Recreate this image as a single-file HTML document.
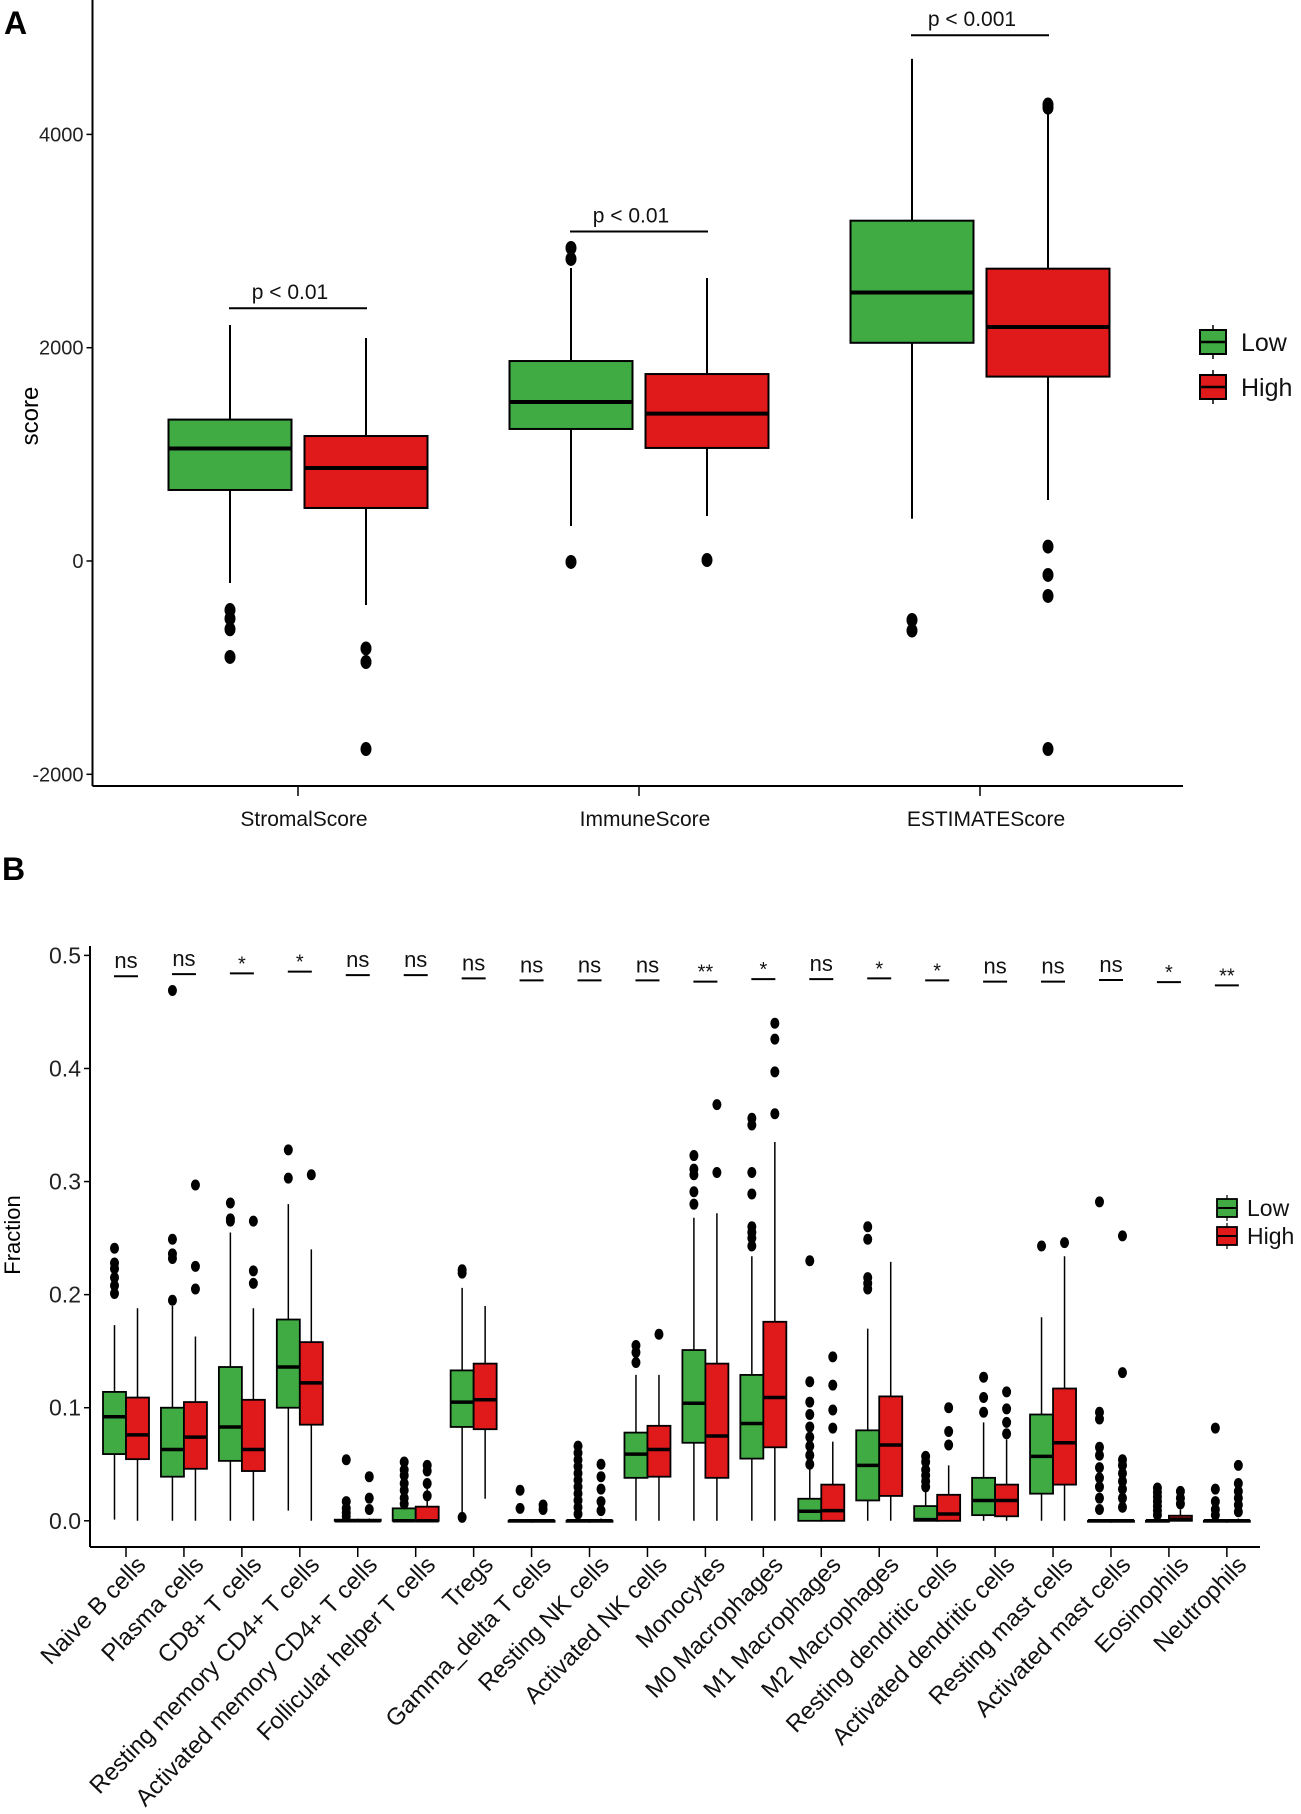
<!DOCTYPE html>
<html><head><meta charset="utf-8"><style>
html,body{margin:0;padding:0;background:#fff;}
svg{display:block;font-family:"Liberation Sans Narrow","Liberation Sans",sans-serif;}
</style></head><body>
<svg id="fig" width="1301" height="1814" viewBox="0 0 1301 1814" xmlns="http://www.w3.org/2000/svg">
<rect width="1301" height="1814" fill="#fff"/>
<text x="4" y="34" font-size="32" font-weight="bold" font-family="Liberation Sans,sans-serif">A</text>
<text x="2" y="880" font-size="32" font-weight="bold" font-family="Liberation Sans,sans-serif">B</text>
<g id="pa"></g>
<g id="pb"></g>
</svg>
<script>
// ---------- Panel A data ----------
const aCategories = ["StromalScore","ImmuneScore","ESTIMATEScore"];
const aPvals = ["p < 0.01","p < 0.01","p < 0.001"];
const aPbarY = [2370, 3090, 4930];
const aTicks = [-2000, 0, 2000, 4000];
const aLowStats = [[-206,666,1055,1326,2213],[328,1238,1491,1875,2747],[396,2046,2518,3191,4708]];
const aHighStats = [[-413,497,872,1172,2091],[422,1060,1382,1753,2653],[572,1729,2194,2741,4187]];
const aLowOut = [[-460,-540,-640,-900],[2935,2832,-9],[-553,-652]];
const aHighOut = [[-820,-947,-1763],[9],[4280,4250,135,-131,-328,-1763]];

// ---------- Panel B data ----------
const bCategories = ["Naive B cells","Plasma cells","CD8+ T cells","Resting memory CD4+ T cells","Activated memory CD4+ T cells","Follicular helper T cells","Tregs","Gamma_delta T cells","Resting NK cells","Activated NK cells","Monocytes","M0 Macrophages","M1 Macrophages","M2 Macrophages","Resting dendritic cells","Activated dendritic cells","Resting mast cells","Activated mast cells","Eosinophils","Neutrophils"];
const bSig = ["ns","ns","*","*","ns","ns","ns","ns","ns","ns","**","*","ns","*","*","ns","ns","ns","*","**"];
const bSigY = [.4816,.4834,.4841,.4856,.4826,.4826,.4797,.4779,.4779,.4779,.4768,.479,.479,.4797,.4779,.4768,.4768,.4783,.4764,.4735];
const bTicks = [0,0.1,0.2,0.3,0.4,0.5];
const bLowStats = [
[0.001,0.059,0.092,0.114,0.173],[0,0.039,0.063,0.100,0.19],[0,0.053,0.083,0.136,0.255],[0.009,0.100,0.136,0.178,0.28],
[0,0,0,0.001,0.002],[0,0,0,0.011,0.027],[0,0.083,0.105,0.133,0.206],[0,0,0,0,0],
[0,0,0,0,0.002],[0,0.038,0.059,0.078,0.129],[0,0.069,0.104,0.151,0.268],[0,0.055,0.086,0.129,0.234],
[0,0,0.0085,0.0195,0.048],[0,0.018,0.049,0.08,0.170],[0,0,0.001,0.013,0.03],[0,0.005,0.018,0.038,0.087],
[0,0.024,0.057,0.094,0.18],[0,0,0,0,0.001],[0,0,0,0,0.002],[0,0,0,0,0.002]];
const bHighStats = [
[0,0.0545,0.076,0.109,0.188],[0,0.046,0.074,0.105,0.163],[0,0.044,0.063,0.107,0.188],[0,0.085,0.122,0.158,0.240],
[0,0,0,0.001,0.002],[0,0,0,0.0125,0.03],[0.0195,0.081,0.107,0.139,0.19],[0,0,0,0,0],
[0,0,0,0,0.002],[0,0.039,0.063,0.084,0.129],[0,0.038,0.075,0.139,0.272],[0,0.065,0.109,0.176,0.335],
[0,0,0.009,0.032,0.07],[0,0.022,0.067,0.11,0.229],[0,0,0.006,0.023,0.049],[0,0.004,0.018,0.032,0.072],
[0,0.032,0.069,0.117,0.234],[0,0,0,0,0.001],[0,0,0.0015,0.0045,0.01],[0,0,0,0,0.002]];
const bLowOut = [
[0.241,0.228,0.223,0.215,0.208,0.201],[0.469,0.249,0.236,0.232,0.195],[0.281,0.267,0.265],[0.328,0.303],
[0.054,0.017,0.011,0.007,0.004],[0.052,0.045,0.04,0.033,0.027,0.02,0.015],[0.222,0.219,0.003],[0.027,0.011],
[0.066,0.06,0.054,0.048,0.042,0.036,0.03,0.024,0.018,0.012,0.006],[0.155,0.149,0.14],[0.323,0.311,0.306,0.291,0.28],[0.356,0.35,0.308,0.289,0.26,0.255,0.25,0.243],
[0.23,0.123,0.105,0.094,0.083,0.074,0.066,0.058,0.05],[0.26,0.249,0.215,0.21,0.205],[0.057,0.052,0.045,0.04,0.035,0.03],[0.127,0.109,0.096],
[0.243],[0.282,0.096,0.09,0.065,0.058,0.047,0.038,0.03,0.02,0.01],[0.029,0.025,0.021,0.017,0.013,0.009,0.005],[0.082,0.028,0.017,0.01,0.005]];
const bHighOut = [
[],[0.297,0.225,0.205],[0.265,0.221,0.21],[0.306],
[0.039,0.02,0.01],[0.049,0.044,0.033,0.022],[],[0.014,0.01],
[0.05,0.039,0.028,0.017,0.009],[0.165],[0.368,0.308],[0.44,0.426,0.397,0.36],
[0.145,0.12,0.098,0.082],[],[0.1,0.079,0.067],[0.114,0.099,0.087,0.077],
[0.246],[0.252,0.131,0.054,0.049,0.042,0.035,0.028,0.02,0.012],[0.026,0.02,0.015],[0.049,0.033,0.026,0.02,0.014,0.008]];

const NS="http://www.w3.org/2000/svg";
function mk(parent,tag,attrs){const e=document.createElementNS(NS,tag);for(const k in attrs)e.setAttribute(k,attrs[k]);parent.appendChild(e);return e;}
const GREEN="#41ab43", RED="#e0191b";

// ---------- Panel A ----------
(function(){
const g=document.getElementById('pa');
const yA=v=>561-(v/2000)*213.3;
const xA=i=>298+i*341;
const L=92.5,R=1183,B=786;
let e;
e=mk(g,'line',{x1:L,y1:0,x2:L,y2:B,stroke:'#000','stroke-width':2});

e=mk(g,'line',{x1:L,y1:B,x2:R,y2:B,stroke:'#000','stroke-width':2});

aTicks.forEach(t=>{
 e=mk(g,'line',{x1:L-6,y1:yA(t),x2:L,y2:yA(t),stroke:'#000','stroke-width':1.5});
 
 e=mk(g,'text',{x:L-9,y:yA(t)+7,'text-anchor':'end','font-size':20,fill:'#222'});e.textContent=t;
 
});
e=mk(g,'text',{x:0,y:0,'font-size':24,'text-anchor':'middle',transform:'translate(38,416) rotate(-90)','font-family':'Liberation Sans,sans-serif'});e.textContent='score';

function box(i,st,out,off,col,name){
 const cx=xA(i)+off,w=123;
 const gg=mk(g,'g',{});
 
 mk(gg,'line',{x1:cx,y1:yA(st[4]),x2:cx,y2:yA(st[0]),stroke:'#000','stroke-width':2});
 mk(gg,'rect',{x:cx-w/2,y:yA(st[3]),width:w,height:yA(st[1])-yA(st[3]),fill:col,stroke:'#000','stroke-width':2});
 mk(gg,'line',{x1:cx-w/2,y1:yA(st[2]),x2:cx+w/2,y2:yA(st[2]),stroke:'#000','stroke-width':4});
 out.forEach(o=>{const d=mk(gg,'ellipse',{cx:cx,cy:yA(o),rx:5.5,ry:7,fill:'#000'});
  });
}
aCategories.forEach((c,i)=>{
 box(i,aLowStats[i],aLowOut[i],-68,GREEN,'box-low-'+i);
 box(i,aHighStats[i],aHighOut[i],68,RED,'box-high-'+i);
 e=mk(g,'line',{x1:xA(i),y1:B,x2:xA(i),y2:B+10,stroke:'#000','stroke-width':1.5});
 
 e=mk(g,'text',{x:xA(i)+6,y:826,'text-anchor':'middle','font-size':21,fill:'#111'});e.textContent=c;
 
 const py=yA(aPbarY[i]);
 e=mk(g,'line',{x1:xA(i)-69,y1:py,x2:xA(i)+69,y2:py,stroke:'#000','stroke-width':2});
 
 e=mk(g,'text',{x:xA(i)-8,y:py-9,'text-anchor':'middle','font-size':21,fill:'#111'});e.textContent=aPvals[i];
 
});
[['Low',GREEN,342],['High',RED,387]].forEach(([t,c,y])=>{
 const lg=mk(g,'g',{});
 mk(lg,'line',{x1:1213,y1:y-17,x2:1213,y2:y+17,stroke:'#000','stroke-width':1.5});
 mk(lg,'rect',{x:1200,y:y-12,width:26,height:24,fill:c,stroke:'#000','stroke-width':2});
 mk(lg,'line',{x1:1200,y1:y,x2:1226,y2:y,stroke:'#000','stroke-width':2.5});
 const tx=mk(lg,'text',{x:1241,y:y+9,'font-size':25,fill:'#111'});tx.textContent=t;
});
})();

// ---------- Panel B ----------
(function(){
const g=document.getElementById('pb');
const yB=v=>1520.8-v*1130.8;
const xB=i=>126+i*57.94;
const L=90,R=1260,B=1547;
let e;
e=mk(g,'line',{x1:L,y1:946,x2:L,y2:B,stroke:'#000','stroke-width':2});

e=mk(g,'line',{x1:L,y1:B,x2:R,y2:B,stroke:'#000','stroke-width':2});

bTicks.forEach(t=>{
 e=mk(g,'line',{x1:L-6,y1:yB(t),x2:L,y2:yB(t),stroke:'#000','stroke-width':1.5});
 
 e=mk(g,'text',{x:L-9,y:yB(t)+8,'text-anchor':'end','font-size':23,fill:'#222'});e.textContent=t.toFixed(1);
 
});
e=mk(g,'text',{x:0,y:0,'font-size':22,'text-anchor':'middle',transform:'translate(20,1235) rotate(-90)','font-family':'Liberation Sans,sans-serif'});e.textContent='Fraction';

function box(i,st,out,off,col,name){
 const cx=xB(i)+off,w=23;
 const gg=mk(g,'g',{});
 
 mk(gg,'line',{x1:cx,y1:yB(st[4]),x2:cx,y2:yB(st[0]),stroke:'#000','stroke-width':1.5});
 mk(gg,'rect',{x:cx-w/2,y:yB(st[3]),width:w,height:Math.max(1,yB(st[1])-yB(st[3])),fill:col,stroke:'#000','stroke-width':1.8});
 mk(gg,'line',{x1:cx-w/2,y1:yB(st[2]),x2:cx+w/2,y2:yB(st[2]),stroke:'#000','stroke-width':3.5});
 out.forEach(o=>{const d=mk(gg,'ellipse',{cx:cx,cy:yB(o),rx:4.5,ry:5.5,fill:'#000'});
  });
}
bCategories.forEach((c,i)=>{
 box(i,bLowStats[i],bLowOut[i],-11.5,GREEN,'box-low-'+i);
 box(i,bHighStats[i],bHighOut[i],11.5,RED,'box-high-'+i);
 e=mk(g,'line',{x1:xB(i),y1:B,x2:xB(i),y2:B+10,stroke:'#000','stroke-width':1.5});
 
 e=mk(g,'text',{x:0,y:0,'text-anchor':'end','font-size':24,fill:'#111','font-family':'Liberation Sans,sans-serif',transform:`translate(${xB(i)+21},1566) rotate(-46)`});e.textContent=c;
 
 const sy=yB(bSigY[i]);
 e=mk(g,'line',{x1:xB(i)-12,y1:sy,x2:xB(i)+12,y2:sy,stroke:'#000','stroke-width':2});
 
 e=mk(g,'text',{x:xB(i),y:bSig[i]==='ns'?sy-8:sy-3,'text-anchor':'middle','font-size':bSig[i]==='ns'?22:20,fill:'#111'});e.textContent=bSig[i];
 
});
[['Low',GREEN,1208],['High',RED,1236]].forEach(([t,c,y])=>{
 const lg=mk(g,'g',{});
 mk(lg,'line',{x1:1227,y1:y-13,x2:1227,y2:y+13,stroke:'#000','stroke-width':1.2});
 mk(lg,'rect',{x:1217,y:y-9,width:20,height:18,fill:c,stroke:'#000','stroke-width':1.8});
 mk(lg,'line',{x1:1217,y1:y,x2:1237,y2:y,stroke:'#000','stroke-width':2});
 const tx=mk(lg,'text',{x:1247,y:y+8,'font-size':23,fill:'#111'});tx.textContent=t;
});
})();
</script>
</body></html>
